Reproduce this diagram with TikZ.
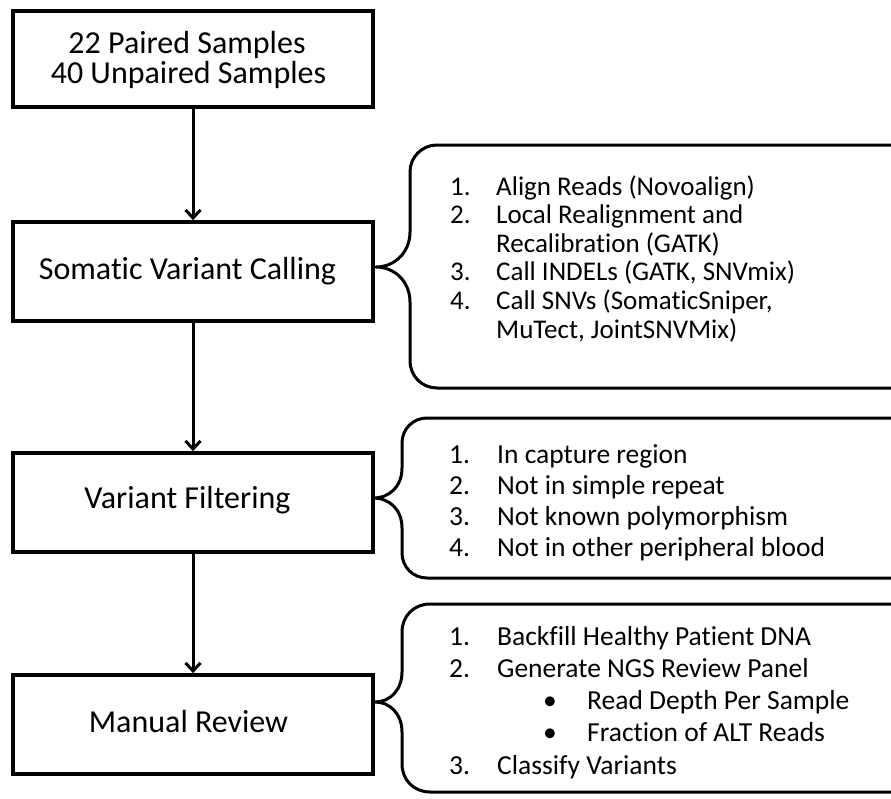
\documentclass[tikz,border=0pt]{standalone}
\usepackage{fontspec}
\setmainfont[Ligatures={NoCommon}]{Carlito}
\usetikzlibrary{arrows.meta}
\begin{document}
\begin{tikzpicture}[x=1pt,y=-1pt,
  box/.style={draw=black, line width=3.8pt, minimum width=360pt, inner sep=0pt},
  boxtext/.style={font=\fontsize{32}{31}\selectfont, inner sep=0pt, anchor=base},
  flow/.style={line width=3pt, -{Straight Barb[length=8pt,width=15pt]}},
  bracepath/.style={line width=3pt, line join=round},
  listtext/.style={inner sep=0pt, anchor=base west}
]
\clip (0,0) rectangle (891,798);
\fill[white] (0,0) rectangle (891,798);

% boxes
\node[box, minimum height=96pt] (s1) at (193,59) {};
\node[box, minimum height=99pt] (s2) at (193,271.5) {};
\node[box, minimum height=99pt] (s3) at (193,502.5) {};
\node[box, minimum height=99pt] (s4) at (193,724.5) {};

% box texts
\node[boxtext] (t1a) at (187,53) {22 Paired Samples};
\node[boxtext] (t1b) at (188.5,83) {40 Unpaired Samples};
\node[boxtext] (t2) at (187.5,279) {Somatic Variant Calling};
\node[boxtext] (t3) at (187.5,508) {Variant Filtering};
\node[boxtext] (t4) at (188.5,732) {Manual Review};

% arrows
\draw[flow] (s1.south) -- (s2.north);
\draw[flow] (s2.south) -- (s3.north);
\draw[flow] (s3.south) -- (s4.north);

% braces
\draw[bracepath] (900,145) -- (437,145) .. controls (422,145) and (410,157) .. (410,172)
  -- (410,232) .. controls (410,252) and (395,267) .. (376,267)
  .. controls (395,267) and (410,282) .. (410,302)
  -- (410,361) .. controls (410,376) and (422,388) .. (437,388) -- (900,388);
\draw[bracepath] (900,418) -- (427,418) .. controls (413,418) and (402,429) .. (402,443)
  -- (402,468) .. controls (402,486) and (390,498) .. (373,498)
  .. controls (390,498) and (402,510) .. (402,528)
  -- (402,553) .. controls (402,567) and (413,578) .. (427,578) -- (900,578);
\draw[bracepath] (900,604) -- (430,604) .. controls (414,604) and (402,616) .. (402,632)
  -- (402,672) .. controls (402,690) and (390,702) .. (375,702)
  .. controls (390,702) and (402,714) .. (402,732)
  -- (402,764) .. controls (402,780) and (414,792) .. (430,792) -- (900,792);

% lists
\node[listtext, font=\fontsize{27}{28.6}\selectfont] (l1) at (450,195) {%
\begin{tabular}[t]{@{}p{46pt}@{}l@{}}
1. & Align Reads (Novoalign)\\
2. & Local Realignment and\\
   & Recalibration (GATK)\\
3. & Call INDELs (GATK, SNVmix)\\
4. & Call SNVs (SomaticSniper,\\
   & MuTect, JointSNVMix)
\end{tabular}};

\node[listtext, font=\fontsize{27.5}{31.3}\selectfont] (l2) at (449,463) {%
\begin{tabular}[t]{@{}p{48pt}@{}l@{}}
1. & In capture region\\
2. & Not in simple repeat\\
3. & Not known polymorphism\\
4. & Not in other peripheral blood
\end{tabular}};

\node[listtext, font=\fontsize{27.5}{32.3}\selectfont] (l3) at (449,645) {%
\begin{tabular}[t]{@{}p{48pt}@{}l@{}}
1. & Backfill Healthy Patient DNA\\
2. & Generate NGS Review Panel\\
   & \hspace*{46pt}\makebox[44pt][l]{•}Read Depth Per Sample\\
   & \hspace*{46pt}\makebox[44pt][l]{•}Fraction of ALT Reads\\
3. & Classify Variants
\end{tabular}};
\end{tikzpicture}
\end{document}
